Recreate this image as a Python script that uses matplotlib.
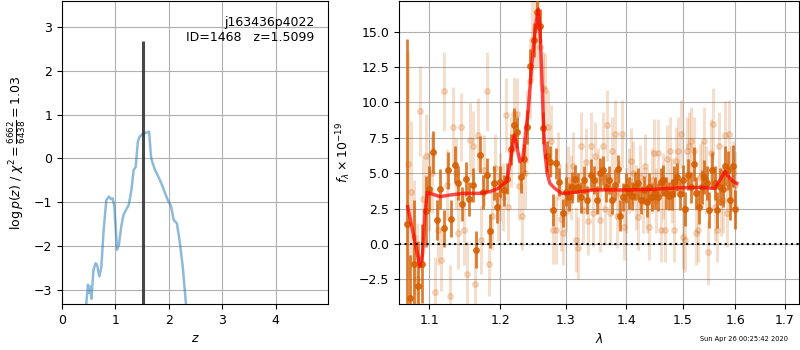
#!/usr/bin/env python3
import matplotlib
matplotlib.use('Agg')
import matplotlib.pyplot as plt
from matplotlib.ticker import NullLocator

# --- redshift probability, left panel ---
z_grid = [0.45, 0.455, 0.486, 0.505, 0.53, 0.55, 0.59, 0.63, 0.655, 0.70, 0.735,
          0.78, 0.83, 0.88, 0.92, 0.95, 0.98, 1.02, 1.03, 1.065, 1.11, 1.15,
          1.20, 1.25, 1.30, 1.34, 1.38, 1.42, 1.45, 1.50, 1.56, 1.63, 1.67,
          1.73, 1.79, 1.86, 1.92, 1.98, 2.04, 2.09, 2.15, 2.20, 2.26, 2.32, 2.35]
log_pz = [-3.6, -3.31, -2.88, -3.07, -2.92, -3.2, -2.54, -2.39, -2.42, -2.69, -2.5,
          -1.63, -0.95, -0.87, -0.93, -0.91, -1.1, -1.86, -2.08, -1.97, -1.55, -1.29,
          -1.17, -1.06, -0.72, -0.27, -0.19, 0.38, 0.49, 0.55, 0.58, 0.61, 0.0,
          -0.23, -0.38, -0.57, -0.76, -0.95, -1.08, -1.40, -1.48, -1.86, -2.46, -3.31, -3.7]
z_best = 1.5099
z_line_top = 2.68
label_field = 'j163436p4022'
label_id = 'ID=1468   z=1.5099'
chi2_label = r'$\log p(z)$ / $\chi^2=\frac{6662}{6438}=1.03$'

# --- spectrum, right panel (G141) ---
lam_bin = [1.070, 1.075, 1.080, 1.085, 1.090, 1.095, 1.100, 1.105, 1.110, 1.115,
           1.120, 1.125, 1.130, 1.135, 1.140, 1.145, 1.150, 1.155, 1.160, 1.165,
           1.170, 1.175, 1.180, 1.185, 1.190, 1.195, 1.200, 1.205, 1.210, 1.215,
           1.220, 1.225, 1.230, 1.235, 1.240, 1.245, 1.250, 1.255, 1.260, 1.265,
           1.270, 1.275, 1.280, 1.285, 1.290, 1.295, 1.300, 1.305, 1.310, 1.315,
           1.320, 1.325, 1.330, 1.335, 1.340, 1.345, 1.350, 1.355, 1.360, 1.365,
           1.370, 1.375, 1.380, 1.385, 1.390, 1.395, 1.400, 1.405, 1.410, 1.415,
           1.420, 1.425, 1.430, 1.435, 1.440, 1.445, 1.450, 1.455, 1.460, 1.465,
           1.470, 1.475, 1.480, 1.485, 1.490, 1.495, 1.500, 1.505, 1.510, 1.515,
           1.520, 1.525, 1.530, 1.535, 1.540, 1.545, 1.550, 1.555, 1.560, 1.565,
           1.570, 1.575, 1.580, 1.585, 1.590, 1.595, 1.600]
flux_bin = [1.4, -3.8, -1.4, -3.0, -1.4, 2.3, 3.9, 6.5, 1.7, 3.9,
            1.1, 5.2, 1.8, 5.6, 4.3, 2.8, 4.6, 3.2, 4.2, -0.4,
            6.3, 3.7, 4.9, 0.9, 4.3, 2.6, 4.4, 3.8, 4.6, 6.7,
            8.4, 7.9, 4.7, 6.0, 8.3, 12.6, 14.4, 16.4, 15.4, 8.2,
            6.2, 5.8, 2.4, 5.7, 4.4, 2.2, 3.7, 3.3, 4.0, 4.6,
            4.0, 3.3, 4.5, 3.1, 4.9, 4.5, 3.1, 5.0, 5.2, 4.0,
            4.5, 3.1, 4.2, 5.3, 2.0, 3.3, 4.0, 3.6, 3.4, 4.1,
            4.3, 3.1, 3.8, 3.0, 4.0, 3.3, 3.6, 3.3, 4.4, 4.5,
            3.6, 3.4, 3.5, 4.4, 4.75, 3.5, 4.5, 2.5, 4.9, 4.0,
            5.65, 3.6, 2.6, 4.05, 4.75, 4.3, 2.4, 5.2, 4.3, 2.4,
            4.05, 3.9, 5.5, 5.2, 3.1, 5.5, 2.45]
err_bin = [13.1, 3.0, 4.5, 3.2, 2.8, 2.5, 1.6, 1.5, 1.4, 1.4,
           1.3, 1.3, 1.3, 1.3, 1.2, 1.2, 1.2, 1.2, 1.2, 1.3,
           1.3, 1.2, 1.2, 1.2, 1.2, 1.1, 1.1, 1.1, 1.1, 1.1,
           1.2, 1.1, 1.1, 1.1, 1.2, 1.2, 1.2, 1.2, 1.2, 1.1,
           1.1, 1.1, 1.1, 1.1, 1.0, 1.0, 1.0, 1.0, 1.1, 1.0,
           1.0, 1.1, 1.0, 1.0, 1.1, 1.0, 1.0, 1.1, 1.0, 1.0,
           1.0, 1.0, 1.1, 1.0, 1.1, 1.0, 1.0, 1.1, 1.0, 1.0,
           1.1, 1.0, 1.0, 1.1, 1.0, 1.0, 1.1, 1.0, 1.0, 1.1,
           1.1, 1.0, 1.1, 1.1, 1.0, 1.1, 1.1, 1.2, 1.1, 1.1,
           1.2, 1.1, 1.2, 1.2, 1.2, 1.2, 1.3, 1.3, 1.2, 1.3,
           1.3, 1.3, 1.4, 1.4, 1.4, 1.5, 1.4]

lam_raw = [1.072, 1.076, 1.080, 1.084, 1.088, 1.092, 1.096, 1.100, 1.104, 1.108,
           1.112, 1.116, 1.120, 1.124, 1.128, 1.132, 1.136, 1.140, 1.144, 1.148,
           1.152, 1.156, 1.160, 1.164, 1.168, 1.172, 1.176, 1.180, 1.184, 1.188,
           1.192, 1.196, 1.200, 1.204, 1.208, 1.212, 1.216, 1.220, 1.224, 1.228,
           1.232, 1.236, 1.240, 1.244, 1.248, 1.252, 1.256, 1.260, 1.264, 1.268,
           1.272, 1.276, 1.280, 1.284, 1.288, 1.292, 1.296, 1.300, 1.304, 1.308,
           1.312, 1.316, 1.320, 1.324, 1.328, 1.332, 1.336, 1.340, 1.344, 1.348,
           1.352, 1.356, 1.360, 1.364, 1.368, 1.372, 1.376, 1.380, 1.384, 1.388,
           1.392, 1.396, 1.400, 1.404, 1.408, 1.412, 1.416, 1.420, 1.424, 1.428,
           1.432, 1.436, 1.440, 1.444, 1.448, 1.452, 1.456, 1.460, 1.464, 1.468,
           1.472, 1.476, 1.480, 1.484, 1.488, 1.492, 1.496, 1.500, 1.504, 1.508,
           1.512, 1.516, 1.520, 1.524, 1.528, 1.532, 1.536, 1.540, 1.544, 1.548,
           1.552, 1.556, 1.560, 1.564, 1.568, 1.572, 1.576, 1.580, 1.584, 1.588,
           1.592, 1.596, 1.600]
flux_raw = [5.65, 3.7, 0.5, -2.5, 9.4, 3.2, 6.2, 3.7, 5.0, -3.4,
            1.0, -1.1, 10.8, 4.2, -3.7, 8.3, 5.0, 0.75, 8.3, 1.0,
            -2.1, 7.35, 6.9, -2.8, 7.7, 0.3, 5.2, 10.8, -1.4, 2.0,
            5.4, 2.6, 4.0, 3.3, 9.1, 2.6, 6.5, 9.2, 9.2, 4.1,
            2.0, 5.0, 8.3, 11.5, 14.4, 15.2, 15.3, 13.9, 11.0, 10.9,
            8.3, 7.3, 1.0, 1.0, 5.5, 1.8, 0.8, 3.3, 4.5, 4.0,
            5.5, 0.3, -0.3, 6.9, 2.4, 5.8, 1.6, 6.9, 2.2, 6.2,
            4.5, 1.7, 6.9, 2.5, 8.4, 2.2, 6.6, 7.8, 2.0, 3.6,
            7.8, 1.2, 3.1, 4.5, 5.9, 5.0, 3.3, 1.9, 4.7, 3.1,
            5.5, 3.1, 1.2, 4.5, 6.4, 3.1, 6.4, 1.0, 4.1, 1.0,
            6.0, 6.6, 3.8, 1.0, 5.9, 6.6, 7.8, 0.5, 0.3, 6.6,
            6.9, 7.3, 6.6, 0.8, 1.0, 4.7, 4.9, 7.3, 4.5, -0.6,
            6.4, 8.5, 2.6, 1.0, 6.9, 3.0, 3.1, 7.7, 2.2, 7.8,
            4.6, 5.0, 4.2]
err_raw = [8.0, 5.0, 4.0, 4.0, 3.2, 3.0, 3.0, 2.8, 2.8, 2.5,
           2.5, 2.2, 2.8, 2.5, 2.2, 2.8, 2.5, 2.5, 2.4, 2.5,
           2.3, 2.6, 2.5, 2.2, 2.6, 2.4, 2.5, 2.8, 2.3, 2.4,
           2.4, 2.4, 2.4, 2.4, 2.6, 2.4, 2.5, 2.6, 2.5, 2.4,
           2.4, 2.5, 2.6, 2.7, 2.8, 2.8, 2.8, 2.7, 2.6, 2.6,
           2.5, 2.5, 2.4, 2.4, 2.4, 2.3, 2.3, 2.4, 2.4, 2.3,
           2.4, 2.3, 2.2, 2.4, 2.4, 2.4, 2.4, 2.4, 2.4, 2.4,
           2.3, 2.3, 2.4, 2.4, 2.5, 2.3, 2.4, 2.4, 2.3, 2.3,
           2.4, 2.3, 2.3, 2.3, 2.3, 2.3, 2.3, 2.3, 2.3, 2.3,
           2.3, 2.3, 2.3, 2.3, 2.4, 2.3, 2.4, 2.3, 2.3, 2.3,
           2.4, 2.4, 2.3, 2.3, 2.4, 2.4, 2.4, 2.3, 2.3, 2.4,
           2.4, 2.4, 2.4, 2.3, 2.3, 2.4, 2.4, 2.4, 2.4, 2.3,
           2.4, 2.5, 2.4, 2.3, 2.4, 2.4, 2.3, 2.4, 2.4, 2.4,
           2.3, 2.3, 2.3]

lam_model = [1.0713, 1.0786, 1.0875, 1.0911, 1.0942, 1.0973, 1.1009, 1.1145, 1.1282,
             1.1468, 1.1705, 1.1849, 1.1968, 1.2093, 1.2143, 1.2183, 1.2207, 1.2243,
             1.2291, 1.2331, 1.2365, 1.2417, 1.2467, 1.2518, 1.2543, 1.2569, 1.2594,
             1.2620, 1.2645, 1.2670, 1.2707, 1.2749, 1.2827, 1.2932, 1.3000, 1.3225,
             1.3445, 1.3667, 1.4000, 1.4470, 1.4726, 1.5000, 1.5317, 1.5606, 1.5700,
             1.5797, 1.5862, 1.5958, 1.6025]
flux_model = [2.64, 0.75, -1.60, -0.66, 2.17, 3.63, 3.58, 3.35, 3.46,
              3.58, 3.58, 3.70, 3.93, 4.41, 5.70, 7.11, 7.70, 6.88,
              5.82, 5.94, 7.35, 9.47, 12.53, 14.89, 15.83, 16.6, 15.36,
              12.53, 9.0, 6.64, 5.0, 4.29, 3.93, 3.58, 3.58, 3.70,
              3.82, 3.82, 3.82, 3.86, 3.93, 3.98, 4.00, 3.93, 4.52,
              5.11, 4.76, 4.41, 4.29]

lam_ticks = [1.1, 1.2, 1.3, 1.4, 1.5, 1.6, 1.7]
lam_tick_labels = ['1.1', '1.2', '1.3', '1.4', '1.5', '1.6', '1.7']
timestamp = 'Sun Apr 26 00:25:42 2020'

G141_COLOR = (0.8353, 0.3686, 0.0)

plt.rcParams.update({
    'font.size': 9,
    'axes.labelsize': 9,
    'xtick.labelsize': 9,
    'ytick.labelsize': 9,
})

fig = plt.figure(figsize=(8, 3.5), dpi=100)
ax_pz = fig.add_axes([0.0775, 0.1314, 0.3325, 0.8657])
ax_sp = fig.add_axes([0.49875, 0.1314, 0.49975, 0.8657])

# p(z)
ax_pz.plot(z_grid, log_pz, color='tab:blue', alpha=0.5, lw=1.8)
ax_pz.vlines(z_best, -3.32, z_line_top, color='0.2', alpha=0.9, lw=2.2)
ax_pz.text(0.95, 0.95, label_field + '\n' + label_id, ha='right', va='top',
           transform=ax_pz.transAxes, fontsize=9)
ax_pz.set_xlim(0, 4.98)
ax_pz.set_ylim(-3.32, 3.59)
ax_pz.set_xlabel(r'$z$')
ax_pz.set_ylabel(chi2_label)
ax_pz.grid(True)

# spectrum
ax_sp.errorbar(lam_raw, flux_raw, yerr=err_raw, marker='o', linestyle='None',
               color=G141_COLOR, alpha=0.2, ms=4, elinewidth=2.2, zorder=2)
ax_sp.errorbar(lam_bin, flux_bin, yerr=err_bin, marker='o', linestyle='None',
               color=G141_COLOR, alpha=0.8, ms=4, elinewidth=2, zorder=3)
ax_sp.plot(lam_model, flux_model, color='r', alpha=0.7, lw=2.5, zorder=4)
ax_sp.axhline(0, color='k', linestyle=':', lw=1.5, zorder=5)

ax_sp.set_xscale('log')
ax_sp.set_xlim(1.06, 1.729)
ax_sp.set_xticks(lam_ticks, lam_tick_labels)
ax_sp.xaxis.set_minor_locator(NullLocator())
ax_sp.set_ylim(-4.24, 17.17)
ax_sp.set_xlabel(r'$\lambda$')
ax_sp.set_ylabel(r'$f_\lambda \times 10^{-19}$')
ax_sp.grid(True)

fig.text(0.985, 0.031, timestamp, ha='right', va='center', fontsize=4.8)

fig.savefig('out.png', dpi=100)
